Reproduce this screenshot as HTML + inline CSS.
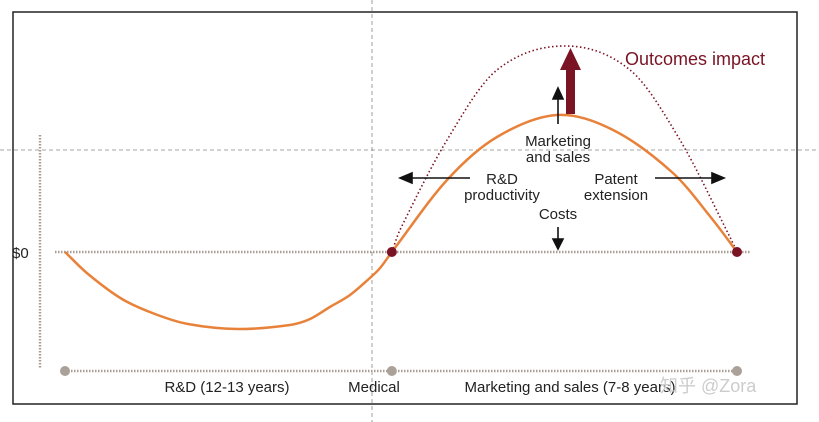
<!DOCTYPE html>
<html><head><meta charset="utf-8"><style>
body{margin:0;background:#fff;}
svg{display:block;font-family:"Liberation Sans",Arial,sans-serif;}
</style></head><body>
<svg id="chart" width="819" height="422" viewBox="0 0 819 422">
<rect x="13" y="12" width="784" height="392" fill="#fff" stroke="#222" stroke-width="1.5"/>
<line x1="372" y1="0" x2="372" y2="422" stroke="#888" stroke-dasharray="4,3" stroke-width="0.8"/>
<line x1="0" y1="150" x2="819" y2="150" stroke="#888" stroke-dasharray="4,3" stroke-width="0.8"/>
<line x1="40" y1="135" x2="40" y2="368" stroke="#a79d95" stroke-width="2.5" stroke-dasharray="1.5,1.5"/>
<text x="12" y="258" font-size="15" fill="#222">$0</text>
<g id="marks"></g>
<text x="625" y="65" font-size="18" fill="#7a1424">Outcomes impact</text>
<g font-size="15" fill="#222" text-anchor="middle">
<text x="558" y="146">Marketing</text>
<text x="558" y="162">and sales</text>
<text x="502" y="184">R&amp;D</text>
<text x="502" y="200">productivity</text>
<text x="616" y="184">Patent</text>
<text x="616" y="200">extension</text>
<text x="558" y="219">Costs</text>
<text x="227" y="392">R&amp;D (12-13 years)</text>
<text x="374" y="392">Medical</text>
<text x="570" y="392">Marketing and sales (7-8 years)</text>
</g>
<g stroke="#111" stroke-width="1.6" fill="#111">
<line x1="470" y1="178" x2="410" y2="178"/><polygon points="400,178 412,173 412,183"/>
<line x1="655" y1="178" x2="714" y2="178"/><polygon points="724,178 712,173 712,183"/>
<line x1="558" y1="124" x2="558" y2="96"/><polygon points="558,88 553,99 563,99"/>
<line x1="558" y1="227" x2="558" y2="242"/><polygon points="558,249 553,239 563,239"/>
</g>
<rect x="566" y="68" width="9" height="46" fill="#7a1424"/>
<polygon points="570.5,48 560,70 581,70" fill="#7a1424"/>
<text x="660" y="392" font-size="18" fill="#ccc" font-family="'Liberation Sans','Noto Sans CJK SC',sans-serif">知乎 @Zora</text>
</svg>
<script>
const years = [0, 0.88, 2.18, 3.44, 4.70, 6.62, 8.6, 9.37, 10.13, 10.9, 11.66, 12.05, 12.5, 14.61, 16.52, 18.82, 20.96, 23.25, 24.78, 25.7];
const cashFlow = [0, -22, -47, -62, -72, -77, -73, -67, -55, -43, -26, -16, 0, 72, 115, 137, 122, 79, 32, 0];
const impactYears = [12.5, 12.81, 14.61, 16.52, 19.12, 21.61, 23.52, 25.43, 25.7];
const impactFlow = [0, 22, 112, 182, 206, 182, 112, 15, 0];
const milestoneYears = [0, 12.5, 25.7];

const x = v => 65 + v * (737 - 65) / 25.7;
const y = v => 252 - v;
function smooth(xs, ys){
  const p = xs.map((v,i)=>[x(v), y(ys[i])]);
  const n = p.length;
  const m = p.map((q,i)=>{
    const a = p[Math.max(0,i-1)], b = p[Math.min(n-1,i+1)];
    return (b[1]-a[1])/(b[0]-a[0]);
  });
  let d = `M${p[0][0]},${p[0][1]}`;
  for(let i=0;i<n-1;i++){
    const dx = (p[i+1][0]-p[i][0])/3;
    d += ` C${p[i][0]+dx},${p[i][1]+m[i]*dx} ${p[i+1][0]-dx},${p[i+1][1]-m[i+1]*dx} ${p[i+1][0]},${p[i+1][1]}`;
  }
  return d;
}
const NS = "http://www.w3.org/2000/svg";
const g = document.getElementById('marks');
function mk(tag, attrs){ const e=document.createElementNS(NS,tag); for(const k in attrs) e.setAttribute(k,attrs[k]); g.appendChild(e); return e; }

const zero = mk('line',{x1:55,y1:y(0),x2:750,y2:y(0),stroke:'#a79d95','stroke-width':2.5,'stroke-dasharray':'1.5,1.5'});


const tl = mk('line',{x1:x(milestoneYears[0]),y1:371,x2:x(milestoneYears[2]),y2:371,stroke:'#a79d95','stroke-width':2.5,'stroke-dasharray':'1.5,1.5'});


milestoneYears.forEach(m=>{
  const c = mk('circle',{cx:x(m),cy:371,r:5,fill:'#aaa198'});
  
  
});
const imp = mk('path',{d:smooth(impactYears,impactFlow),fill:'none',stroke:'#7a1424','stroke-width':1.6,'stroke-dasharray':'1.5,2.5'});


const cf = mk('path',{d:smooth(years,cashFlow),fill:'none',stroke:'#e8823a','stroke-width':2.5});


[milestoneYears[1], milestoneYears[2]].forEach(m=>{
  const c = mk('circle',{cx:x(m),cy:y(0),r:5,fill:'#7a1424'});
  
  
});
</script>
</body></html>
